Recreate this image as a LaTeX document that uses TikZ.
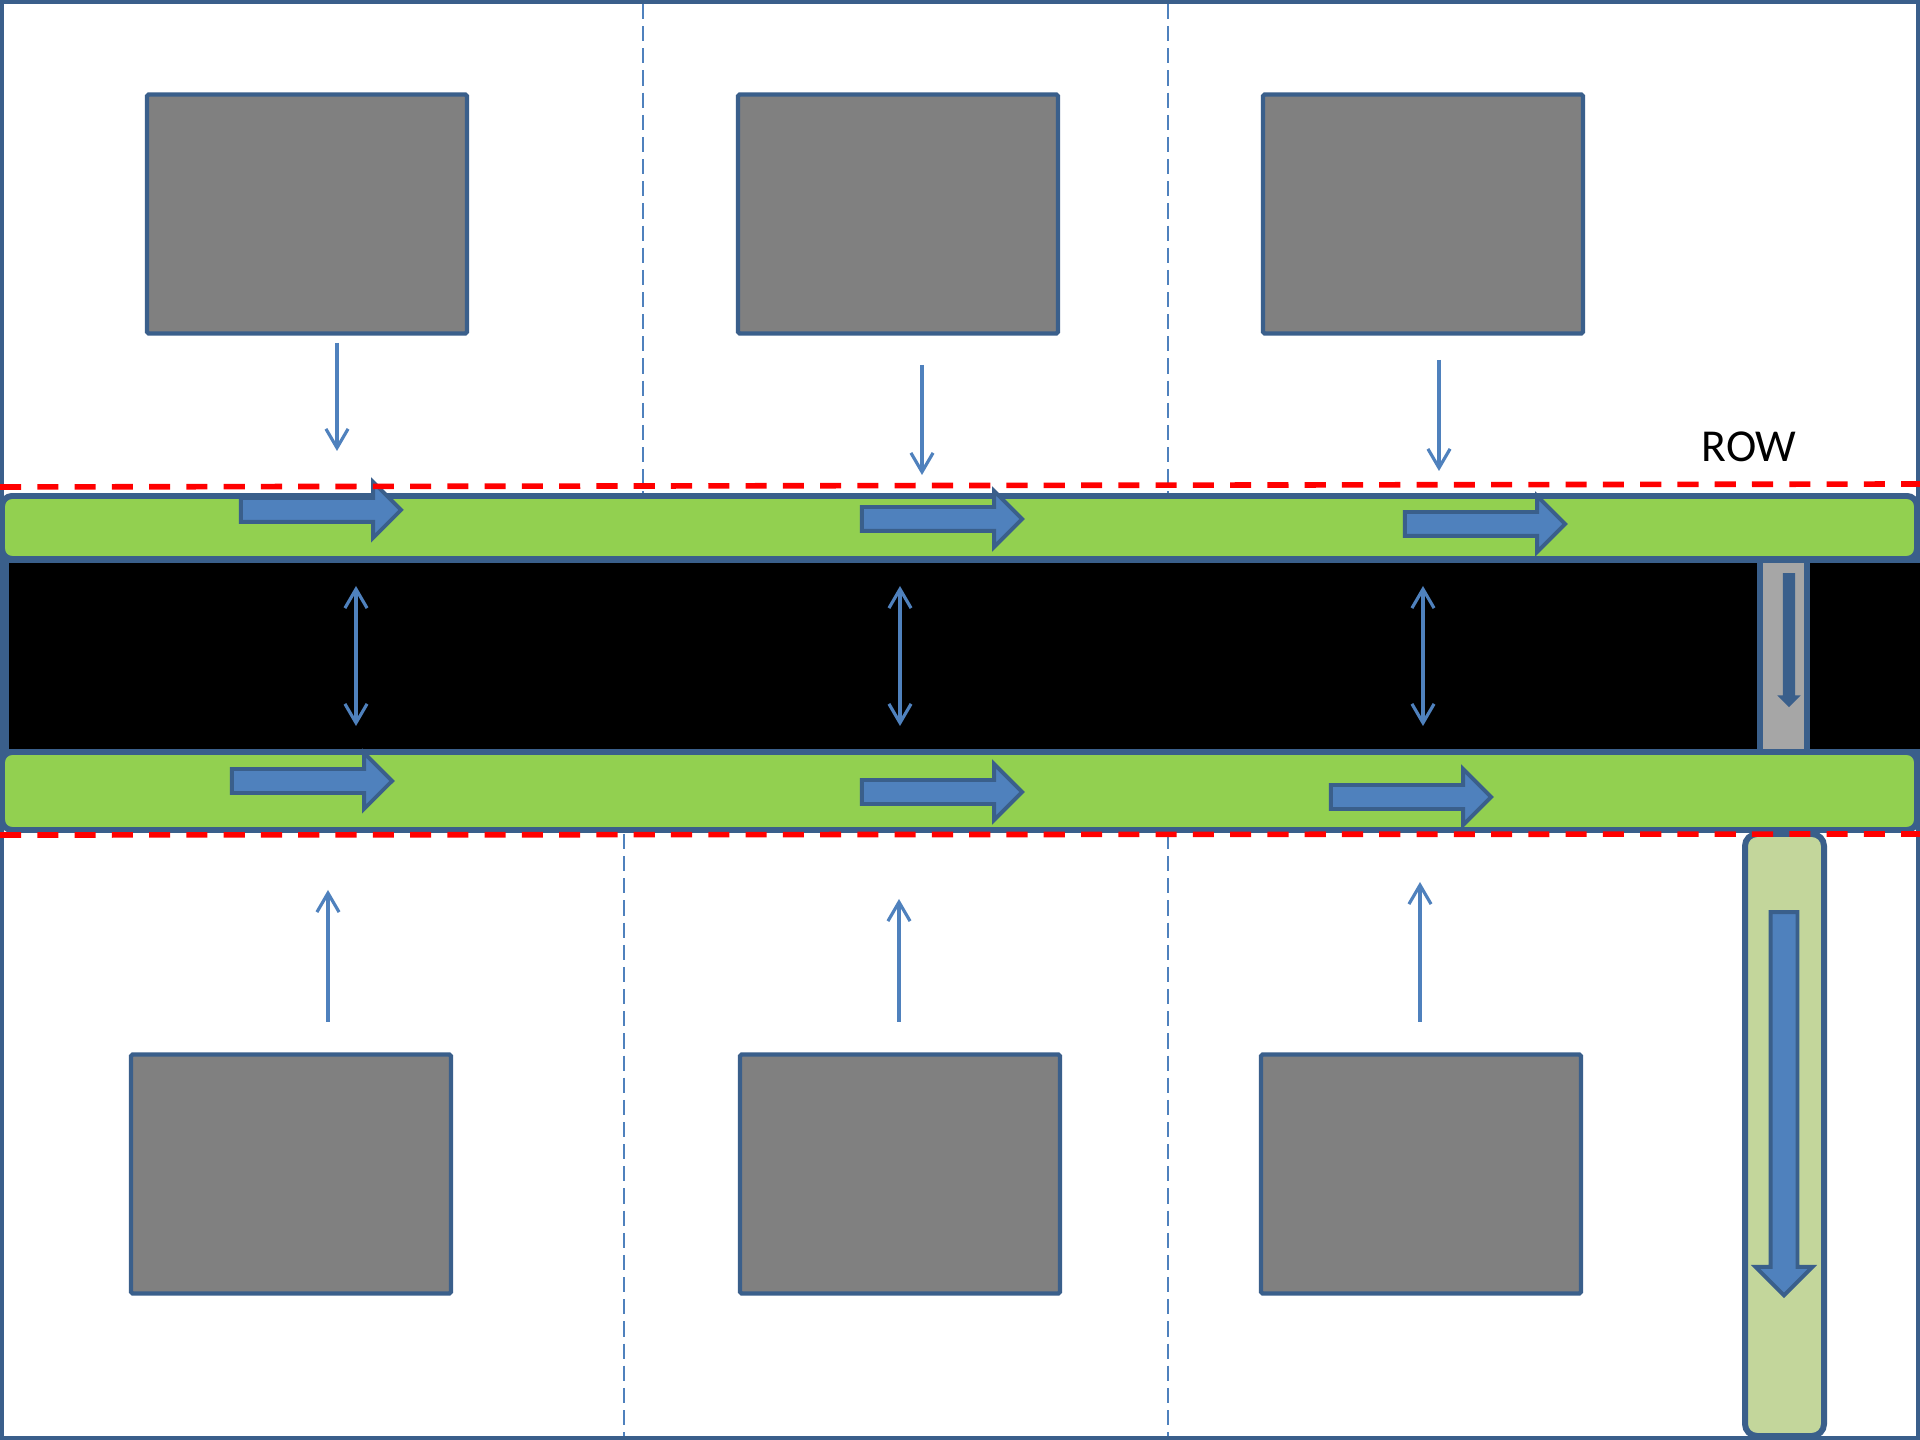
\documentclass[tikz,border=0pt]{standalone}
\usepackage{fontspec}
\setmainfont{Carlito}
\usetikzlibrary{shapes.arrows,arrows.meta}
\definecolor{edgeblue}{HTML}{3A5F8B}
\definecolor{flowblue}{HTML}{4F81BD}
\definecolor{lanegreen}{HTML}{92D050}
\definecolor{paleolive}{HTML}{C3D69B}
\definecolor{lotgrey}{HTML}{808080}
\definecolor{stripgrey}{HTML}{A6A6A6}
\begin{document}
\begin{tikzpicture}[x=0.01cm,y=-0.01cm]
            \tikzstyle{building}=[draw=edgeblue, fill=lotgrey, line width=1.2pt, rounded corners=0.5pt, minimum width=3.2cm, minimum height=2.39cm, inner sep=0pt]
            \tikzstyle{lanearrow}=[single arrow, draw=edgeblue, fill=flowblue, line width=1.1pt, inner xsep=0pt, inner ysep=0.1cm, single arrow head extend=0.16cm, minimum height=1.6cm]
            \tikzstyle{band}=[draw=edgeblue, fill=lanegreen, line width=1.7pt, rounded corners=0.1cm]
            \tikzstyle{lotline}=[flowblue, line width=0.6pt, dash pattern=on 4.3pt off 2pt]
            \tikzstyle{rowline}=[red, line width=1.6pt, dash pattern=on 6pt off 4.6pt]
            \tikzstyle{flow}=[flowblue, line width=0.9pt, -{Straight Barb[length=5.4pt,width=6.3pt]}]
            \tikzstyle{twoway}=[flowblue, line width=0.9pt, {Straight Barb[length=5.4pt,width=6.3pt]}-{Straight Barb[length=5.4pt,width=6.3pt]}]
            \useasboundingbox (0,0) rectangle (1920,1440);
            \draw[draw=edgeblue, line width=1.1pt, fill=white] (2,2) rectangle (1918,1438);
            % lot boundaries
            \draw[lotline] (643,4) -- (643,494);
            \draw[lotline] (1168,4) -- (1168,494);
            \draw[lotline] (624,834) -- (624,1436);
            \draw[lotline] (1168,834) -- (1168,1436);
            % road and lanes
            \draw[draw=edgeblue, line width=1.7pt, fill=black] (6,560) rectangle (1926,752);
            \draw[band] (2,496) rectangle (1917,559);
            \draw[band] (2,752) rectangle (1917,830);
            \draw[draw=edgeblue, line width=1.5pt, fill=stripgrey] (1760,560) rectangle (1807,752);
            \node[single arrow, fill=edgeblue, inner xsep=0pt, inner ysep=0.055cm, single arrow head extend=0.055cm, minimum height=1.34cm, rotate=-90] (drop) at (1789,637) {};
            \draw[draw=edgeblue, line width=1.7pt, fill=paleolive, rounded corners=0.12cm] (1745,834) rectangle (1824,1436);
            \node[lanearrow, minimum height=3.83cm, inner ysep=0.115cm, single arrow head extend=0.15cm, rotate=-90] (exit) at (1784,1097) {};
            % lots
            \node[building] (N1) at (307,214) {};
            \node[building] (N2) at (898,214) {};
            \node[building] (N3) at (1423,214) {};
            \node[building] (S1) at (291,1174) {};
            \node[building] (S2) at (900,1174) {};
            \node[building] (S3) at (1421,1174) {};
            % traffic direction
            \node[lanearrow] (up1) at (315,510) {};
            \node[lanearrow] (up2) at (936,519) {};
            \node[lanearrow] (up3) at (1479,524) {};
            \node[lanearrow] (lo1) at (306,781) {};
            \node[lanearrow] (lo2) at (936,792) {};
            \node[lanearrow] (lo3) at (1405,797) {};
            % access
            \coordinate (n1a) at (337,343); \coordinate (n1b) at (337,451);
            \coordinate (n2a) at (922,365); \coordinate (n2b) at (922,475);
            \coordinate (n3a) at (1439,360); \coordinate (n3b) at (1439,471);
            \coordinate (s1a) at (328,1022); \coordinate (s1b) at (328,890);
            \coordinate (s2a) at (899,1022); \coordinate (s2b) at (899,899);
            \coordinate (s3a) at (1420,1022); \coordinate (s3b) at (1420,882);
            \coordinate (c1a) at (356,586); \coordinate (c1b) at (356,726);
            \coordinate (c2a) at (900,586); \coordinate (c2b) at (900,726);
            \coordinate (c3a) at (1423,586); \coordinate (c3b) at (1423,726);
            \path [flow] (n1a) edge (n1b) (n2a) edge (n2b) (n3a) edge (n3b);
            \path [flow] (s1a) edge (s1b) (s2a) edge (s2b) (s3a) edge (s3b);
            \path [twoway] (c1a) edge (c1b) (c2a) edge (c2b) (c3a) edge (c3b);
            \node[font=\fontsize{13}{15}\selectfont, inner sep=0pt] (row) at (1749,447) {ROW};
            % right of way
            \draw[rowline] (0,487) -- (1920,484);
            \draw[rowline] (0,835) -- (1920,834);
        \end{tikzpicture}
\end{document}
